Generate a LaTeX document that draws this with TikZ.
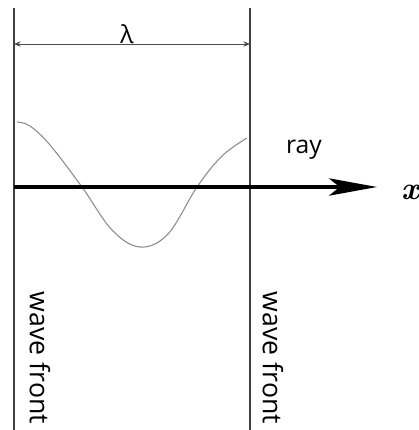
\documentclass[tikz,border=0pt]{standalone}
\usepackage{fontspec}
\setsansfont{Open Sans}
\usetikzlibrary{arrows.meta}
\begin{document}
\begin{tikzpicture}[x=0.75pt,y=-0.75pt,
  front/.style={draw=black!75,line width=1.4pt},
  lbl/.style={font=\sffamily\fontsize{18.5}{21}\selectfont,inner sep=0pt},
  wf/.style={font=\sffamily\fontsize{20}{22}\selectfont,inner sep=0pt,rotate=-90}]
\useasboundingbox (0,0) rectangle (419,430);
\coordinate (lt) at (14,8);
\coordinate (lb) at (14,430);
\coordinate (rt) at (250,8);
\coordinate (rb) at (250,430);
\draw[front] (lt) -- (lb);
\draw[front] (rt) -- (rb);
\coordinate (dl) at (14,44);
\coordinate (dr) at (250,44);
\draw[black!70,line width=0.7pt,{Stealth[length=5pt,width=4pt]}-{Stealth[length=5pt,width=4pt]}] (dl) -- (dr);
\node[lbl] (lam) at (127,34) {λ};
\draw[black!45,line width=0.8pt] plot[smooth,tension=0.6] coordinates
 {(17,122) (30,126) (50,145) (82,187) (112,230) (140,247) (168,234) (197,187) (222,156) (247,138)};
\coordinate (ax0) at (14,187);
\coordinate (ax1) at (377,187);
\draw[line width=2.4pt,-{Stealth[length=36pt,width=13pt,inset=8pt]}] (ax0) -- (ax1);
\node[lbl] (ray) at (304,150) {ray};
\node[inner sep=0pt,font=\fontsize{24}{26}\selectfont\bfseries\itshape\rmfamily] (x) at (410,192) {x};
\node[wf] (wf1) at (40,358) {wave front};
\node[wf] (wf2) at (273,358) {wave front};
\end{tikzpicture}
\end{document}
